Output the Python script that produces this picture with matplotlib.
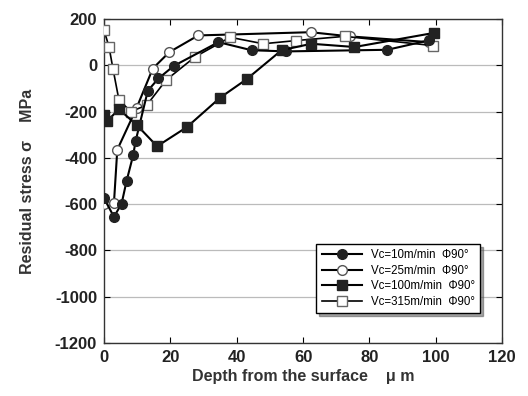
import matplotlib
matplotlib.use("Agg")
import matplotlib.pyplot as plt

plt.rcParams['font.family'] = ['Liberation Sans', 'DejaVu Sans']
plt.rcParams['axes.unicode_minus'] = False

# Vc = 10 m/min (filled circle)
x10 = [0, 3, 5.3, 6.8, 8.8, 9.5, 13.2, 16.4, 21, 34.5, 44.5, 55, 85.4, 98]
y10 = [-575, -655, -598, -500, -388, -329, -110, -57, -3, 100, 65, 60, 67, 108]
# Vc = 25 m/min (open circle)
x25 = [0, 3, 4, 9.8, 14.7, 19.7, 28.4, 62.3, 74, 98]
y25 = [-600, -594, -365, -185, -14, 57, 129, 143, 125, 100]
# Vc = 100 m/min (filled square)
x100 = [0, 1, 4.5, 10, 16, 25, 35, 43, 53.5, 62.5, 75.5, 99.5]
y100 = [-215, -240, -190, -260, -350, -267, -140, -60, 65, 93, 79, 140]
# Vc = 315 m/min (open square)
x315 = [0, 1.5, 2.7, 4.5, 8.1, 12.9, 18.7, 27.4, 38, 48, 58, 72.5, 99.3]
y315 = [152, 80, -15, -150, -200, -172, -64, 36, 121, 93, 107, 125, 85]

labels = ["Vc=10m/min  \u03a690\u00b0", "Vc=25m/min  \u03a690\u00b0",
          "Vc=100m/min  \u03a690\u00b0", "Vc=315m/min  \u03a690\u00b0"]

xticks = [0, 20, 40, 60, 80, 100, 120]
yticks = [200, 0, -200, -400, -600, -800, -1000, -1200]

fig = plt.figure(figsize=(5.28, 3.96), dpi=100)
ax = fig.add_axes([0.197, 0.134, 0.754, 0.818])

ms = 7
ax.plot(x10, y10, '-o', color='black', mfc='#222222', mec='#222222', ms=ms, lw=1.5, label=labels[0], zorder=4)
ax.plot(x25, y25, '-o', color='black', mfc='white', mec='#555555', ms=ms, lw=1.5, label=labels[1], zorder=3)
ax.plot(x100, y100, '-s', color='black', mfc='#222222', mec='#222222', ms=ms, lw=1.5, label=labels[2], zorder=4)
ax.plot(x315, y315, '-s', color='black', mfc='white', mec='#666666', ms=ms, lw=1.2, label=labels[3], zorder=3)

ax.set_xlim(0, 120)
ax.set_ylim(-1200, 200)
ax.set_xticks(xticks)
ax.set_yticks(yticks)
ax.yaxis.grid(True, color='#bbbbbb', lw=0.9)
ax.set_axisbelow(True)
ax.tick_params(direction='in', top=True, right=True, length=4, labelsize=12, pad=5)
for lab in ax.get_xticklabels() + ax.get_yticklabels():
    lab.set_fontweight('bold')
    lab.set_color('#222222')
for sp in ax.spines.values():
    sp.set_color('#333333')
    sp.set_linewidth(1.0)

ax.set_xlabel("Depth from the surface    \u03bc m", fontsize=11.5, fontweight='bold', color='#333333', labelpad=3)
ax.set_ylabel("Residual stress \u03c3    MPa", fontsize=11.5, fontweight='bold', color='#333333', labelpad=14)

leg = ax.legend(loc='lower right', bbox_to_anchor=(0.96, 0.075), fontsize=8.3, frameon=True,
                fancybox=False, shadow=True, edgecolor='black', handlelength=3.5,
                borderpad=0.45, labelspacing=0.3)
leg.get_frame().set_linewidth(1.0)

fig.savefig("out.png", dpi=100)
